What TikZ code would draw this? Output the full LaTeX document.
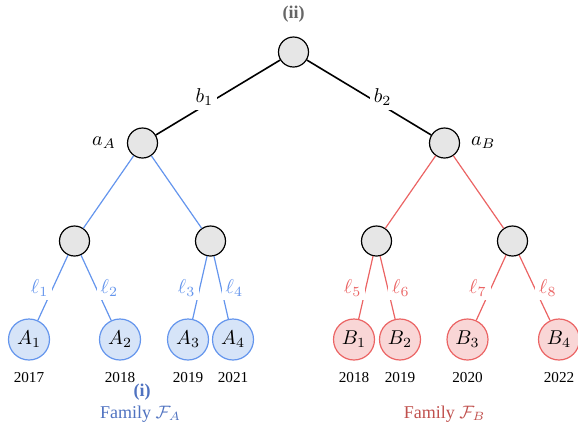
\documentclass[tikz,border=0pt]{standalone}
\usepackage[no-math]{fontspec}
\setmainfont{Liberation Serif}
\definecolor{lblue}{HTML}{6495ED}
\definecolor{fblue}{HTML}{D6E4F8}
\definecolor{lred}{HTML}{EB6464}
\definecolor{fred}{HTML}{F9D6D6}
\definecolor{tblue}{HTML}{4F72C0}
\definecolor{tred}{HTML}{C0504D}
\definecolor{gfill}{HTML}{E6E6E6}
\definecolor{tgray}{HTML}{666666}
\begin{document}
\begin{tikzpicture}[x=0.5pt,y=-0.5pt,
  inode/.style={circle, draw=black, fill=gfill, line width=0.6pt, minimum size=15pt, inner sep=0pt},
  leafA/.style={circle, draw=lblue, fill=fblue, line width=0.6pt, minimum size=20.5pt, inner sep=0pt},
  leafB/.style={circle, draw=lred, fill=fred, line width=0.6pt, minimum size=20.5pt, inner sep=0pt},
  topedge/.style={draw=black, line width=0.8pt},
  bedge/.style={draw=lblue, line width=0.6pt},
  redge/.style={draw=lred, line width=0.6pt},
  elab/.style={midway, fill=white, inner sep=2pt},
  year/.style={font=\fontsize{7.6}{9}\selectfont},
  fam/.style={font=\fontsize{9}{11}\selectfont},
  tag/.style={font=\bfseries\fontsize{9}{11}\selectfont},
]
\useasboundingbox (0,0) rectangle (578,425);

% nodes
\node[inode] (r) at (293.5,52) {};
\node[inode, label={[label distance=2pt]left:$a_A$}] (aA) at (142.5,143) {};
\node[inode, label={[label distance=2pt]right:$a_B$}] (aB) at (444.5,143) {};
\node[inode] (m1) at (74.5,241) {};
\node[inode] (m2) at (210.5,241) {};
\node[inode] (m3) at (376.5,241) {};
\node[inode] (m4) at (512.5,241) {};

\node[leafA] (A1) at (29,339.5) {$A_1$};
\node[leafA] (A2) at (120,339.5) {$A_2$};
\node[leafA] (A3) at (188,339.5) {$A_3$};
\node[leafA] (A4) at (233,339.5) {$A_4$};
\node[leafB] (B1) at (354,339.5) {$B_1$};
\node[leafB] (B2) at (400,339.5) {$B_2$};
\node[leafB] (B3) at (467.5,339.5) {$B_3$};
\node[leafB] (B4) at (559,339.5) {$B_4$};

% edges
\draw[topedge] (r) -- node[elab,left]{$b_1$} (aA);
\draw[topedge] (r) -- node[elab,right]{$b_2$} (aB);
\draw[bedge] (aA) -- (m1);
\draw[bedge] (aA) -- (m2);
\draw[redge] (aB) -- (m3);
\draw[redge] (aB) -- (m4);
\draw[bedge] (m1) -- node[elab,left,text=lblue]{$\ell_1$} (A1);
\draw[bedge] (m1) -- node[elab,right,text=lblue]{$\ell_2$} (A2);
\draw[bedge] (m2) -- node[elab,left,text=lblue]{$\ell_3$} (A3);
\draw[bedge] (m2) -- node[elab,right,text=lblue]{$\ell_4$} (A4);
\draw[redge] (m3) -- node[elab,left,text=lred]{$\ell_5$} (B1);
\draw[redge] (m3) -- node[elab,right,text=lred]{$\ell_6$} (B2);
\draw[redge] (m4) -- node[elab,left,text=lred]{$\ell_7$} (B3);
\draw[redge] (m4) -- node[elab,right,text=lred]{$\ell_8$} (B4);

% years
\node[year] (yA1) at (29,378) {2017};
\node[year] (yA2) at (120,378) {2018};
\node[year] (yA3) at (188,378) {2019};
\node[year] (yA4) at (233,378) {2021};
\node[year] (yB1) at (354,378) {2018};
\node[year] (yB2) at (400,378) {2019};
\node[year] (yB3) at (467.5,378) {2020};
\node[year] (yB4) at (559,378) {2022};

% captions
\node[tag, text=tgray] (tii) at (293.5,14) {(ii)};
\node[tag, text=tblue] (ti) at (142,392) {(i)};
\node[fam, text=tblue] (famA) at (140.5,414) {Family $\mathcal{F}_A$};
\node[fam, text=tred] (famB) at (444.5,414) {Family $\mathcal{F}_B$};
\end{tikzpicture}
\end{document}
